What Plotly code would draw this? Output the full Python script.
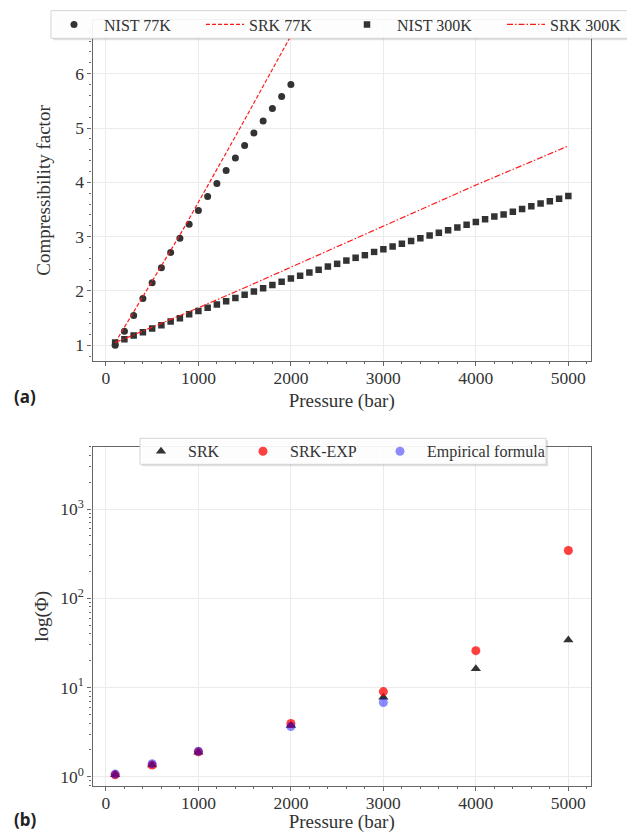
import plotly.graph_objects as go

# ---------------- data: panel (a) ----------------
nist77_p = [100, 200, 300, 400, 500, 600, 700, 800, 900, 1000,
            1100, 1200, 1300, 1400, 1500, 1600, 1700, 1800, 1900, 2000]
nist77_z = [1.00, 1.26, 1.55, 1.86, 2.15, 2.43, 2.71, 2.97, 3.23, 3.48,
            3.74, 3.98, 4.22, 4.45, 4.68, 4.91, 5.13, 5.36, 5.58, 5.80]

srk77_p = [100, 200, 300, 400, 500, 600, 700, 800, 900, 1000,
           1100, 1200, 1300, 1400, 1500, 1600, 1700, 1800, 1900, 2000]
srk77_z = [1.05, 1.33, 1.61, 1.89, 2.17, 2.46, 2.74, 3.03, 3.33, 3.63,
           3.93, 4.23, 4.54, 4.85, 5.15, 5.46, 5.77, 6.08, 6.39, 6.70]

nist300_p = [100, 200, 300, 400, 500, 600, 700, 800, 900, 1000,
             1100, 1200, 1300, 1400, 1500, 1600, 1700, 1800, 1900, 2000,
             2100, 2200, 2300, 2400, 2500, 2600, 2700, 2800, 2900, 3000,
             3100, 3200, 3300, 3400, 3500, 3600, 3700, 3800, 3900, 4000,
             4100, 4200, 4300, 4400, 4500, 4600, 4700, 4800, 4900, 5000]
nist300_z = [1.05, 1.11, 1.18, 1.24, 1.31, 1.37, 1.44, 1.50, 1.57, 1.63,
             1.69, 1.75, 1.81, 1.87, 1.93, 1.99, 2.05, 2.11, 2.17, 2.23,
             2.28, 2.34, 2.39, 2.45, 2.50, 2.56, 2.61, 2.66, 2.72, 2.77,
             2.82, 2.87, 2.92, 2.97, 3.02, 3.07, 3.12, 3.17, 3.22, 3.27,
             3.32, 3.37, 3.41, 3.46, 3.51, 3.56, 3.61, 3.65, 3.70, 3.75]

srk300_p = [100, 500, 1000, 1500, 2000, 2500, 3000, 3500, 4000, 4500, 5000]
srk300_z = [1.05, 1.33, 1.69, 2.06, 2.44, 2.82, 3.20, 3.58, 3.95, 4.31, 4.67]

# ---------------- data: panel (b) ----------------
phi_p = [100, 500, 1000, 2000, 3000, 4000, 5000]
phi_srk = [1.05, 1.35, 1.88, 3.75, 7.8, 16.2, 34.0]
phi_srkexp = [1.05, 1.35, 1.90, 3.95, 9.0, 25.9, 344.0]
emp_p = [100, 500, 1000, 2000, 3000]
phi_emp = [1.07, 1.40, 1.93, 3.65, 6.8]

x_ticks = [0, 1000, 2000, 3000, 4000, 5000]
z_ticks = [1, 2, 3, 4, 5, 6]
log_ticks = [1, 10, 100, 1000]
log_ticktext = ["10<sup>0</sup>", "10<sup>1</sup>", "10<sup>2</sup>", "10<sup>3</sup>"]

SERIF = "Liberation Serif"
DARK = "#333333"
AXC = "#666666"
GRID = "#ebebeb"
W, H = 627, 833

fig = go.Figure()

fig.add_trace(go.Scatter(x=nist77_p, y=nist77_z, mode="markers", name="NIST 77K",
                         marker=dict(symbol="circle", size=7, color=DARK),
                         xaxis="x", yaxis="y", legend="legend"))
fig.add_trace(go.Scatter(x=srk77_p, y=srk77_z, mode="lines", name="SRK 77K",
                         line=dict(color="#ff1a1a", width=1.2, dash="4px,2px"),
                         xaxis="x", yaxis="y", legend="legend2"))
fig.add_trace(go.Scatter(x=nist300_p, y=nist300_z, mode="markers", name="NIST 300K",
                         marker=dict(symbol="square", size=6.5, color=DARK),
                         xaxis="x", yaxis="y", legend="legend3"))
fig.add_trace(go.Scatter(x=srk300_p, y=srk300_z, mode="lines", name="SRK 300K",
                         line=dict(color="#ff1a1a", width=1.2, dash="6px,2px,1.5px,2px"),
                         xaxis="x", yaxis="y", legend="legend4"))

fig.add_trace(go.Scatter(x=phi_p, y=phi_srk, mode="markers", name="SRK",
                         marker=dict(symbol="triangle-up", size=9, color=DARK),
                         xaxis="x2", yaxis="y2", legend="legend5"))
fig.add_trace(go.Scatter(x=phi_p, y=phi_srkexp, mode="markers", name="SRK-EXP",
                         marker=dict(symbol="circle", size=9, color="rgba(255,0,0,0.75)"),
                         xaxis="x2", yaxis="y2", legend="legend6"))
fig.add_trace(go.Scatter(x=emp_p, y=phi_emp, mode="markers", name="Empirical formula",
                         marker=dict(symbol="circle", size=9, color="rgba(0,0,255,0.45)"),
                         xaxis="x2", yaxis="y2", legend="legend7"))

xdom = [92.5 / W, 591 / W]
tick_font = dict(family=SERIF, size=17.5, color=DARK)
title_font = dict(family=SERIF, size=19, color=DARK)

common_x = dict(domain=xdom, range=[-145, 5245], tickvals=x_ticks, ticks="outside",
                ticklen=4, tickcolor=AXC, linecolor=AXC, linewidth=1.2, mirror=True,
                showgrid=True, gridcolor=GRID, gridwidth=1, zeroline=False,
                tickfont=tick_font, ticklabelstandoff=-3,
                minor=dict(ticks="outside", ticklen=2, dtick=200, tick0=0,
                           tickcolor=AXC, showgrid=False),
                title=dict(text="Pressure (bar)", font=title_font, standoff=6))


def marker_legend(px_marker, py_center, item_w):
    # symbol centre sits at item_w/2 + 5 from the legend's left edge
    return dict(orientation="h", x=(px_marker - item_w / 2 - 5) / W, xanchor="left",
                y=1 - py_center / H, yanchor="middle",
                bgcolor="rgba(0,0,0,0)", borderwidth=0,
                font=dict(family=SERIF, size=16, color=DARK), itemwidth=item_w)


def line_legend(px_line_start, py_center, item_w):
    return dict(orientation="h", x=(px_line_start - 5) / W, xanchor="left",
                y=1 - py_center / H, yanchor="middle",
                bgcolor="rgba(0,0,0,0)", borderwidth=0,
                font=dict(family=SERIF, size=16, color=DARK), itemwidth=item_w)


def box(x0, x1, y0, y1):
    return [
        dict(type="rect", xref="paper", yref="paper", layer="above",
             x0=(x0 + 2) / W, x1=(x1 + 2) / W, y0=1 - (y1 + 2) / H, y1=1 - (y0 + 2) / H,
             fillcolor="rgba(0,0,0,0.12)", line=dict(width=0)),
        dict(type="rect", xref="paper", yref="paper", layer="above",
             x0=x0 / W, x1=x1 / W, y0=1 - y1 / H, y1=1 - y0 / H,
             fillcolor="rgba(255,255,255,0.92)", line=dict(color="#d4d4d4", width=1)),
    ]


fig.update_layout(
    width=W, height=H,
    margin=dict(l=0, r=0, t=0, b=0),
    paper_bgcolor="white", plot_bgcolor="white",
    showlegend=True,
    xaxis=dict(anchor="y", **common_x),
    yaxis=dict(domain=[1 - 361 / H, 1 - 20 / H], range=[0.711, 6.989], anchor="x",
               tickvals=z_ticks, ticks="outside", ticklen=4, tickcolor=AXC,
               linecolor=AXC, linewidth=1.2, mirror=True, showgrid=True,
               gridcolor=GRID, zeroline=False, tickfont=tick_font,
               minor=dict(ticks="outside", ticklen=2, dtick=0.2, tick0=0,
                          tickcolor=AXC, showgrid=False),
               title=dict(text="Compressibility factor", font=title_font, standoff=19)),
    xaxis2=dict(anchor="y2", **common_x),
    yaxis2=dict(domain=[1 - 786 / H, 1 - 446.7 / H], type="log",
                range=[-0.104, 3.70], anchor="x2",
                tickvals=log_ticks, ticktext=log_ticktext, ticks="outside", ticklen=4,
                tickcolor=AXC, linecolor=AXC, linewidth=1.2, mirror=True,
                showgrid=True, gridcolor=GRID, zeroline=False, tickfont=tick_font,
                minor=dict(ticks="outside", ticklen=2, dtick="D1",
                           tickcolor=AXC, showgrid=False),
                title=dict(text="log(Φ)", font=title_font, standoff=6)),
    legend=marker_legend(74, 24.5, 50),
    legend2=line_legend(206, 24.5, 38),
    legend3=marker_legend(367, 24.5, 50),
    legend4=line_legend(507, 24.5, 38),
    legend5=marker_legend(161, 451.3, 44),
    legend6=marker_legend(263, 451.3, 44),
    legend7=marker_legend(400, 451.3, 44),
    shapes=box(51, 660, 10.7, 38.3) + box(140, 546, 438.3, 464.3),
    annotations=[
        dict(text="<b>(a)</b>", x=25 / W, y=1 - 396 / H, xref="paper", yref="paper",
             xanchor="center", yanchor="middle", showarrow=False,
             font=dict(family="Noto Sans", size=17, color="#222222")),
        dict(text="<b>(b)</b>", x=25 / W, y=1 - 819 / H, xref="paper", yref="paper",
             xanchor="center", yanchor="middle", showarrow=False,
             font=dict(family="Noto Sans", size=17, color="#222222")),
    ],
)

fig.write_html("out.html")
